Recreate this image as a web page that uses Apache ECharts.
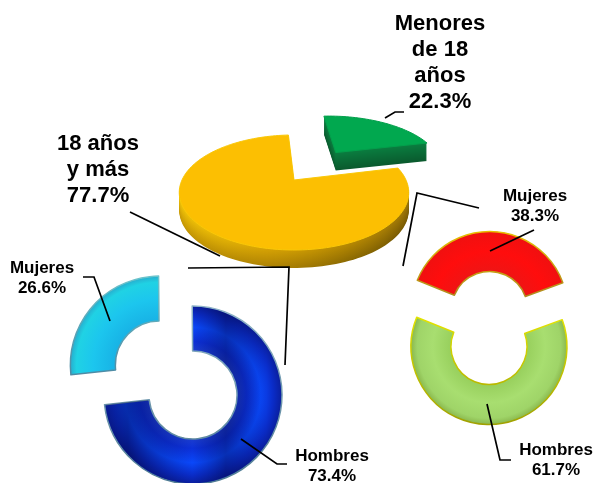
<!DOCTYPE html>
<html>
<head>
<meta charset="utf-8">
<style>
  html, body { margin: 0; padding: 0; background: #fff; }
  #chart { width: 595px; height: 483px; }
</style>
<script src="https://cdn.jsdelivr.net/npm/echarts@6/dist/echarts.min.js"></script>
</head>
<body>
<div id="chart"></div>
<script>
// age split (3D pie), yellow is drawn first so green sits on top of it
const ageNames = ["18 años\ny más", "Menores\nde 18\naños"];
const ageValues = [77.7, 22.3];
// sex split for each age group
const adultNames = ["Hombres", "Mujeres"];
const adultValues = [73.4, 26.6];
const minorNames = ["Mujeres", "Hombres"];
const minorValues = [38.3, 61.7];

const FONT = "'Liberation Sans', Arial, sans-serif";

// tilted disc seen in perspective: unit circle -> screen
const P = { cx: 294, cy: 180, rx: 112, ry: 54.8, k: 0.217, depth: 18 };
const AGE_START = 76.8; // degrees clockwise from top
const EXPLODE = [0, 0.7];

function project(u, v) {
  const w = 1 + P.k * v;
  return [P.cx + (P.rx * u) / w, P.cy - (P.ry * v) / w];
}

function slicePoints(from, sweep, off) {
  const mid = ((from + sweep / 2) * Math.PI) / 180;
  const ou = Math.sin(mid) * off;
  const ov = Math.cos(mid) * off;
  const pts = [project(ou, ov)];
  const n = Math.ceil(sweep / 2);
  for (let i = 0; i <= n; i++) {
    const a = ((from + (sweep * i) / n) * Math.PI) / 180;
    pts.push(project(ou + Math.sin(a), ov + Math.cos(a)));
  }
  return pts;
}

function lerpColor(a, b, t) {
  const pa = [1, 3, 5].map((i) => parseInt(a.substr(i, 2), 16));
  const pb = [1, 3, 5].map((i) => parseInt(b.substr(i, 2), 16));
  return "rgb(" + pa.map((c, i) => Math.round(c + (pb[i] - c) * t)).join(",") + ")";
}

function hGrad(stops) {
  return {
    type: "linear", x: 180, y: 0, x2: 435, y2: 0, global: true,
    colorStops: stops.map((c, i) => ({ offset: i / (stops.length - 1), color: c })),
  };
}

const discStyles = [
  {
    face: "#fcbf02",
    rim: "#fac808",
    wallTop: ["#f2c408", "#d8a404", "#b88a02", "#96700a"],
    wallBottom: ["#c49604", "#b08404", "#8c6a02", "#6e5204"],
  },
  {
    face: "#01a84f",
    rim: "#03a04c",
    wallTop: ["#0a7e40", "#0a7e40", "#0a7e40", "#0a7e40"],
    wallBottom: ["#0a5a2e", "#0a5a2e", "#0a5a2e", "#0a5a2e"],
  },
];

function renderDisc(params, api) {
  const i = params.dataIndex;
  const total = ageValues.reduce((s, v) => s + v, 0);
  let from = AGE_START;
  for (let j = 0; j < i; j++) from += (ageValues[j] / total) * 360;
  const sweep = (api.value(0) / total) * 360;
  const pts = slicePoints(from, sweep, EXPLODE[i]);
  const st = discStyles[i];
  const children = [];
  for (let d = P.depth; d > 0; d--) {
    const t = d / P.depth;
    children.push({
      type: "polygon",
      shape: { points: pts.map((p) => [p[0], p[1] + d]) },
      style: { fill: hGrad(st.wallTop.map((c, k) => lerpColor(c, st.wallBottom[k], t))) },
    });
  }
  children.push({
    type: "polygon",
    shape: { points: pts },
    style: { fill: st.face, stroke: st.rim, lineWidth: 1 },
  });
  return { type: "group", children };
}

function ringGradient(cx, cy, r, stops) {
  return {
    type: "radial", x: cx, y: cy, r, global: true,
    colorStops: stops.map((s) => ({ offset: s[0], color: s[1] })),
  };
}

function edge(top, bottom) {
  return {
    type: "linear", x: 0, y: 0, x2: 0, y2: 1,
    colorStops: [{ offset: 0, color: top }, { offset: 1, color: bottom }],
  };
}

function ringSeries(names, values, opt) {
  return {
    type: "pie",
    silent: true,
    animation: false,
    center: opt.center,
    radius: opt.radius,
    startAngle: opt.startAngle,
    selectedMode: "single",
    selectedOffset: opt.offset,
    label: { show: false },
    labelLine: { show: false },
    emphasis: { disabled: true },
    data: values.map((v, i) => {
      const style = opt.styles[i];
      return {
        name: names[i],
        value: v,
        selected: i === opt.selected,
        itemStyle: style,
        select: { itemStyle: style },
      };
    }),
  };
}

const blueCenter = [193, 395];
const cyanFill = ringGradient(blueCenter[0], blueCenter[1], 92, [
  [0.5, "#18b4e6"], [0.72, "#1cc6ee"], [0.9, "#20d2e4"], [1, "#2a9cc4"],
]);
const blueFill = ringGradient(blueCenter[0], blueCenter[1], 89, [
  [0.5, "#1a3cd0"], [0.6, "#0c30d8"], [0.76, "#0a48fa"], [0.9, "#0a2cc8"], [1, "#0a1e9c"],
]);
// darker vertical bands that run across the blue ring
const blueBands = {
  type: "linear", x: 100, y: 0, x2: 285, y2: 0, global: true,
  colorStops: [
    { offset: 0, color: "rgba(0,0,50,0.1)" },
    { offset: 0.15, color: "rgba(0,0,50,0.4)" },
    { offset: 0.5, color: "rgba(0,0,50,0)" },
    { offset: 0.68, color: "rgba(0,0,50,0.35)" },
    { offset: 0.9, color: "rgba(0,0,50,0)" },
    { offset: 1, color: "rgba(0,0,50,0)" },
  ],
};
const rightCenter = [489, 346.5];
const redFill = ringGradient(rightCenter[0], rightCenter[1], 78, [
  [0.5, "#f01414"], [0.75, "#ff0d0d"], [1, "#f01010"],
]);
const limeFill = ringGradient(rightCenter[0], rightCenter[1], 78, [
  [0.48, "#97cf5c"], [0.72, "#a8de70"], [0.92, "#9fd468"], [1, "#8ab84e"],
]);

const option = {
  backgroundColor: "#fff",
  series: [
    {
      type: "custom",
      coordinateSystem: "none",
      silent: true,
      animation: false,
      renderItem: renderDisc,
      data: ageValues.map((v) => [v]),
    },
    ringSeries(adultNames, adultValues, {
      center: blueCenter,
      radius: [44, 89],
      startAngle: 90.5,
      offset: 45,
      selected: 1,
      styles: [
        { color: blueFill, borderColor: edge("#8fb4c8", "#4f7c94"), borderWidth: 1.5 },
        { color: cyanFill, borderColor: edge("#6cc4cc", "#4e8aa4"), borderWidth: 1.5 },
      ],
    }),
    ringSeries(adultNames, adultValues, {
      center: blueCenter,
      radius: [45, 88],
      startAngle: 90.5,
      offset: 45,
      selected: 1,
      styles: [
        { color: blueBands, borderWidth: 0 },
        { color: "rgba(0,0,0,0)", borderWidth: 0 },
      ],
    }),
    ringSeries(minorNames, minorValues, {
      center: rightCenter,
      radius: [38, 78],
      startAngle: 158,
      offset: 37,
      selected: 0,
      styles: [
        { color: redFill, borderColor: edge("#e8c000", "#b08a20"), borderWidth: 1.5 },
        { color: limeFill, borderColor: edge("#e4e400", "#a0a000"), borderWidth: 1.5 },
      ],
    }),
  ],
  graphic: { elements: [] },
};

function pct(v) {
  return v.toFixed(1) + "%";
}

function label(text, x, y, size, lh) {
  return {
    type: "text", z: 20, silent: true,
    style: {
      text, x, y, align: "center", verticalAlign: "middle", fill: "#000",
      font: `bold ${size}px ${FONT}`, lineHeight: lh,
    },
  };
}

function leader(points) {
  return {
    type: "polyline", z: 20, silent: true,
    shape: { points },
    style: { stroke: "#000", lineWidth: 1.7, fill: null },
  };
}

option.graphic.elements = [
  label(ageNames[1] + "\n" + pct(ageValues[1]), 440, 63, 22, 26),
  label(ageNames[0] + "\n" + pct(ageValues[0]), 98, 170, 22, 26),
  label(adultNames[1] + "\n" + pct(adultValues[1]), 42, 278, 17, 20),
  label(adultNames[0] + "\n" + pct(adultValues[0]), 332, 466, 17, 20),
  label(minorNames[0] + "\n" + pct(minorValues[0]), 535, 206, 17, 20),
  label(minorNames[1] + "\n" + pct(minorValues[1]), 556, 460, 17, 20),
  leader([[385, 118], [395, 112], [404, 112]]),
  leader([[130, 212], [220, 256]]),
  leader([[188, 268], [289, 267], [285, 365]]),
  leader([[403, 266], [417, 193], [479, 208]]),
  leader([[83, 277], [94, 277], [110, 321]]),
  leader([[241, 439], [277, 464], [287, 464]]),
  leader([[534, 230], [490, 251]]),
  leader([[487, 404], [500, 460], [511, 460]]),
];

const mc = echarts.init(document.getElementById("chart"));
mc.setOption(option);
</script>
</body>
</html>
